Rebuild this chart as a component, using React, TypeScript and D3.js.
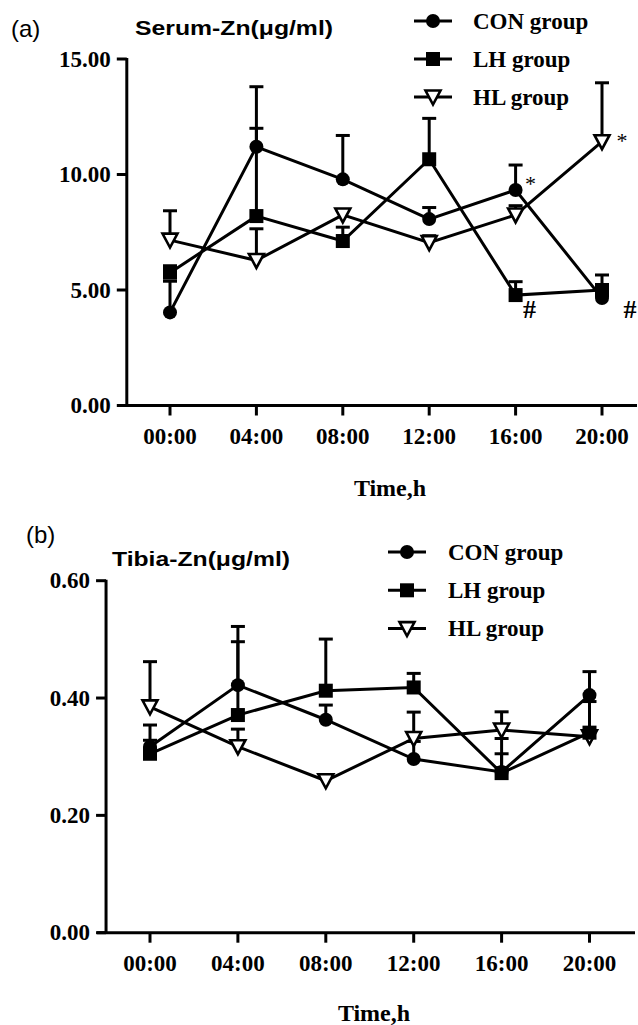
import { scalePoint, scaleLinear, line } from 'd3'

const times = ['00:00', '04:00', '08:00', '12:00', '16:00', '20:00']
const groups = ['CON group', 'LH group', 'HL group']

// Serum-Zn (panel a)
const serumCon = [4.03, 11.2, 9.79, 8.07, 9.33, 4.65]
const serumConErr = [1.35, 2.6, 1.9, 0.5, 1.08, 0.5]
const serumLh = [5.75, 8.2, 7.12, 10.66, 4.78, 5.0]
const serumLhErr = [0.3, 3.8, 0.6, 1.77, 0.58, 0.65]
const serumHl = [7.16, 6.28, 8.25, 7.05, 8.25, 11.42]
const serumHlErr = [1.27, 1.37, 0.2, 0.3, 0.4, 2.55]
const serumTicks = [0, 5, 10, 15]

// Tibia-Zn (panel b)
const tibiaCon = [0.317, 0.422, 0.363, 0.296, 0.274, 0.405]
const tibiaConErr = [0.037, 0.074, 0.025, 0.03, 0.031, 0.04]
const tibiaLh = [0.305, 0.371, 0.4125, 0.418, 0.272, 0.341]
const tibiaLhErr = [0.023, 0.151, 0.088, 0.024, 0.059, 0.053]
const tibiaHl = [0.385, 0.317, 0.259, 0.331, 0.3455, 0.334]
const tibiaHlErr = [0.077, 0.03, 0.01, 0.045, 0.031, 0.01]
const tibiaTicks = [0, 0.2, 0.4, 0.6]

// significance marks on panel a
const stars = [{ group: 'CON group', time: '16:00' }, { group: 'HL group', time: '20:00' }]
const hashes = [{ group: 'LH group', time: '16:00' }, { group: 'CON group', time: '20:00' }]

const serif = '"Liberation Serif", "Times New Roman", serif'
const sans = '"Liberation Sans", Arial, sans-serif'

function Marker({ kind, x, y }) {
  if (kind === 'CON group') return <circle cx={x} cy={y} r={7} fill="black" />
  if (kind === 'LH group') return <rect x={x - 7} y={y - 7} width={14} height={14} fill="black" />
  return (
    <path
      d={`M${x - 7.5},${y - 6.5}L${x + 7.5},${y - 6.5}L${x},${y + 7.5}Z`}
      fill="white"
      stroke="black"
      strokeWidth={2.6}
      strokeLinejoin="miter"
    />
  )
}

function Panel({ label, labelPos, title, titlePos, titleLen, series, ticks, fmt, xRange, yRange, yMax, axisRight, tickBase, xTitle, legend, marks }) {
  const x = scalePoint().domain(times).range(xRange)
  const y = scaleLinear().domain([0, yMax]).range(yRange)
  const axisX = xRange[0] - (xRange[1] - xRange[0]) / 5 / 2
  const left = x(times[0]) - 44 + 0
  const yAxisX = axisX
  const path = line().x((d, i) => x(times[i])).y(d => y(d))
  const order = [2, 1, 0]

  return (
    <g>
      <text x={labelPos[0]} y={labelPos[1]} fontFamily={sans} fontSize={24}>{label}</text>
      <text x={titlePos[0]} y={titlePos[1]} fontFamily={sans} fontWeight="bold" fontSize={20}
        textLength={titleLen} lengthAdjust="spacingAndGlyphs">{title}</text>

      {/* axes */}
      <line x1={yAxisX} x2={yAxisX} y1={y(yMax) - 1} y2={y(0)} stroke="black" strokeWidth={3} />
      <line x1={yAxisX - 9} x2={axisRight} y1={y(0)} y2={y(0)} stroke="black" strokeWidth={3} />
      {ticks.map(t => (
        <g key={t}>
          <line x1={yAxisX - 10} x2={yAxisX} y1={y(t)} y2={y(t)} stroke="black" strokeWidth={3} />
          <text x={yAxisX - 16} y={y(t)} dy="0.33em" textAnchor="end" fontFamily={serif}
            fontWeight="bold" fontSize={23}>{fmt(t)}</text>
        </g>
      ))}
      {times.map(t => (
        <g key={t}>
          <line x1={x(t)} x2={x(t)} y1={y(0)} y2={y(0) + 10} stroke="black" strokeWidth={3} />
          <text x={x(t)} y={tickBase} textAnchor="middle" fontFamily={serif} fontWeight="bold"
            fontSize={23}>{t}</text>
        </g>
      ))}
      <text x={xTitle[0]} y={xTitle[1]} textAnchor="middle" fontFamily={serif} fontWeight="bold"
        fontSize={24}>Time,h</text>

      {/* lines */}
      {series.map(s => (
        <path key={s.name} d={path(s.values)} fill="none" stroke="black" strokeWidth={3} />
      ))}
      {/* error bars (upper only) */}
      {series.map(s => s.values.map((v, i) => (
        <g key={s.name + i}>
          <line x1={x(times[i])} x2={x(times[i])} y1={y(v)} y2={y(v + s.err[i])} stroke="black" strokeWidth={3} />
          <line x1={x(times[i]) - 7} x2={x(times[i]) + 7} y1={y(v + s.err[i])} y2={y(v + s.err[i])}
            stroke="black" strokeWidth={3} />
        </g>
      )))}
      {order.map(k => series[k].values.map((v, i) => (
        <Marker key={series[k].name + i} kind={series[k].name} x={x(times[i])} y={y(v)} />
      )))}

      {marks && marks(x, y)}

      {/* legend */}
      {groups.map((g, i) => (
        <g key={g} transform={`translate(${legend.x},${legend.y + i * legend.step})`}>
          <line x1={-19} x2={19} y1={0} y2={0} stroke="black" strokeWidth={3} />
          <Marker kind={g} x={0} y={0} />
          <text x={legend.tx} y={7.5} fontFamily={serif} fontWeight="bold" fontSize={23}>{g}</text>
        </g>
      ))}
    </g>
  )
}

function App() {
  const serumSeries = [
    { name: 'CON group', values: serumCon, err: serumConErr },
    { name: 'LH group', values: serumLh, err: serumLhErr },
    { name: 'HL group', values: serumHl, err: serumHlErr },
  ]
  const tibiaSeries = [
    { name: 'CON group', values: tibiaCon, err: tibiaConErr },
    { name: 'LH group', values: tibiaLh, err: tibiaLhErr },
    { name: 'HL group', values: tibiaHl, err: tibiaHlErr },
  ]
  const lookup = (g, t) => {
    const s = serumSeries.find(d => d.name === g)
    return s.values[times.indexOf(t)]
  }

  return (
    <svg width={638} height={1025} style={{ position: 'absolute', left: 0, top: 0, background: 'white' }}>
      <Panel
        label="(a)" labelPos={[11, 37]}
        title="Serum-Zn(μg/ml)" titlePos={[135, 35]} titleLen={198}
        series={serumSeries} ticks={serumTicks} fmt={d => d.toFixed(2)}
        xRange={[170, 602]} yRange={[405.5, 59]} yMax={15} axisRight={637}
        tickBase={444} xTitle={[390, 496]}
        legend={{ x: 433, y: 21, step: 38, tx: 40 }}
        marks={(x, y) => (
          <g fontFamily={serif}>
            {stars.map(s => (
              <text key={'s' + s.time} x={x(s.time) + (s.time === '20:00' ? 20 : 15)}
                y={y(lookup(s.group, s.time)) + (s.time === '20:00' ? 6 : 1)} textAnchor="middle"
                fontSize={22}>*</text>
            ))}
            {hashes.map(h => (
              <text key={'h' + h.time} x={x(h.time) + (h.time === '20:00' ? 28 : 14)} y={318}
                textAnchor="middle" fontWeight="bold" fontSize={26}>#</text>
            ))}
          </g>
        )}
      />
      <Panel
        label="(b)" labelPos={[26, 543]}
        title="Tibia-Zn(μg/ml)" titlePos={[112, 566]} titleLen={178}
        series={tibiaSeries} ticks={tibiaTicks} fmt={d => d.toFixed(2)}
        xRange={[150, 589.5]} yRange={[932.7, 580.7]} yMax={0.6} axisRight={635}
        tickBase={971} xTitle={[374, 1021]}
        legend={{ x: 407, y: 552, step: 38.3, tx: 41 }}
      />
    </svg>
  )
}

export default App
